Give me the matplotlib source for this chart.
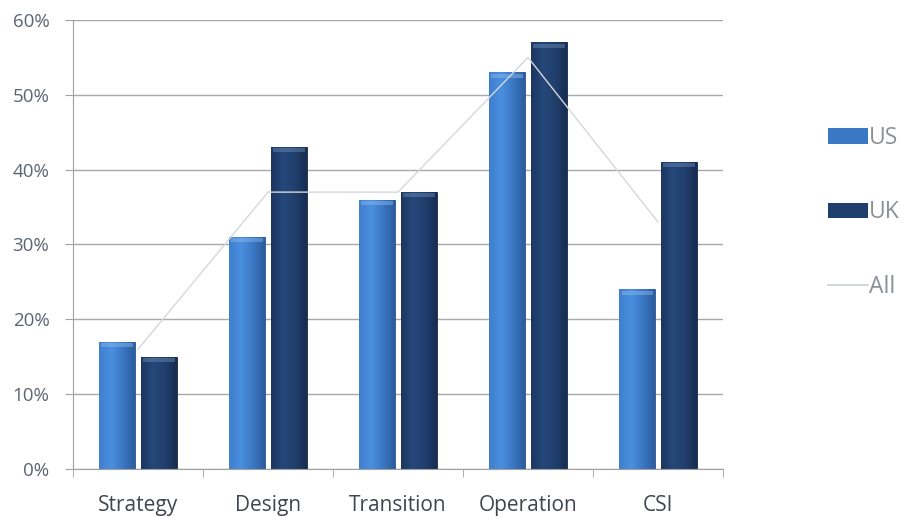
import matplotlib
matplotlib.use("Agg")
import matplotlib.pyplot as plt
import numpy as np
from matplotlib.colors import LinearSegmentedColormap
from matplotlib.patches import Patch
from matplotlib.lines import Line2D

categories = ["Strategy", "Design", "Transition", "Operation", "CSI"]
us = [17, 31, 36, 53, 24]
uk = [15, 43, 37, 57, 41]
all_line = [16, 37, 37, 55, 33]
yticks = [0, 10, 20, 30, 40, 50, 60]

# horizontal shading for the bars (left -> right)
us_cmap = LinearSegmentedColormap.from_list("us", ["#3f7fcc", "#4a8fe0", "#3b78c4", "#2c5d9e"])
uk_cmap = LinearSegmentedColormap.from_list("uk", ["#1c3660", "#25487a", "#203f6d", "#172d52"])


def shade_bars(ax, bars, cmap, cap):
    grad = np.linspace(0, 1, 64).reshape(1, -1)
    for b in bars:
        x0, y0 = b.get_x(), b.get_y()
        w, h = b.get_width(), b.get_height()
        im = ax.imshow(grad, cmap=cmap, aspect="auto", extent=(x0, x0 + w, y0, y0 + h),
                       zorder=2, interpolation="bicubic")
        im.set_clip_path(b)
        # thin lighter band along the top of each bar
        ax.fill_between([x0 + w * 0.06, x0 + w * 0.94], y0 + h - 0.7, y0 + h - 0.15,
                        color=cap, alpha=0.45, zorder=3, linewidth=0)


fig = plt.figure(figsize=(9.15, 5.18), dpi=100)
ax = fig.add_axes([0.0798, 0.0946, 0.7104, 0.8668])

x = np.arange(len(categories))
w = 0.275
b_us = ax.bar(x - 0.16, us, width=w, color="#3b78c4", edgecolor="#2a5590", linewidth=0.6, zorder=2)
b_uk = ax.bar(x + 0.16, uk, width=w, color="#203f6d", edgecolor="#15284a", linewidth=0.6, zorder=2)
shade_bars(ax, b_us, us_cmap, "#8fbaf0")
shade_bars(ax, b_uk, uk_cmap, "#6f8db8")

ax.plot(x, all_line, color="#d4d8dc", linewidth=1.0, zorder=4)

ax.set_xlim(-0.5, len(categories) - 0.5)
ax.set_ylim(0, 60)
ax.set_yticks(yticks)
ax.set_yticklabels([f"{v}%" for v in yticks])
ax.yaxis.grid(True, color="#a8a8a8", linewidth=1.0, zorder=0)
ax.set_axisbelow(True)

ax.set_xticks(x)
ax.set_xticklabels(categories)
ax.set_xticks(np.arange(-0.5, len(categories)), minor=True)
ax.tick_params(axis="x", which="major", length=0, pad=19, labelsize=15, labelcolor="#3f4650")
ax.tick_params(axis="x", which="minor", length=6, color="#a0a0a0", direction="out")
ax.tick_params(axis="y", length=6, color="#a0a0a0", pad=11, labelsize=13.5, labelcolor="#5a6572")

for s in ["top", "right"]:
    ax.spines[s].set_visible(False)
ax.spines["left"].set_color("#a0a0a0")
ax.spines["bottom"].set_color("#a0a0a0")

for lbl in ax.get_xticklabels() + ax.get_yticklabels():
    lbl.set_family("Open Sans")

handles = [Patch(facecolor="#3b78c4", edgecolor="none"),
           Patch(facecolor="#203f6d", edgecolor="none"),
           Line2D([0], [0], color="#c8d0d8", linewidth=1.2)]
leg = fig.legend(handles, ["US", "UK", "All"], loc="center left", bbox_to_anchor=(0.882, 0.590),
                 frameon=False, labelspacing=2.2, handlelength=1.75, handleheight=0.65,
                 handletextpad=0.05, prop={"family": "Open Sans", "size": 16.5})
for t in leg.get_texts():
    t.set_color("#8a9098")

fig.savefig("out.png", dpi=100, facecolor="white")
